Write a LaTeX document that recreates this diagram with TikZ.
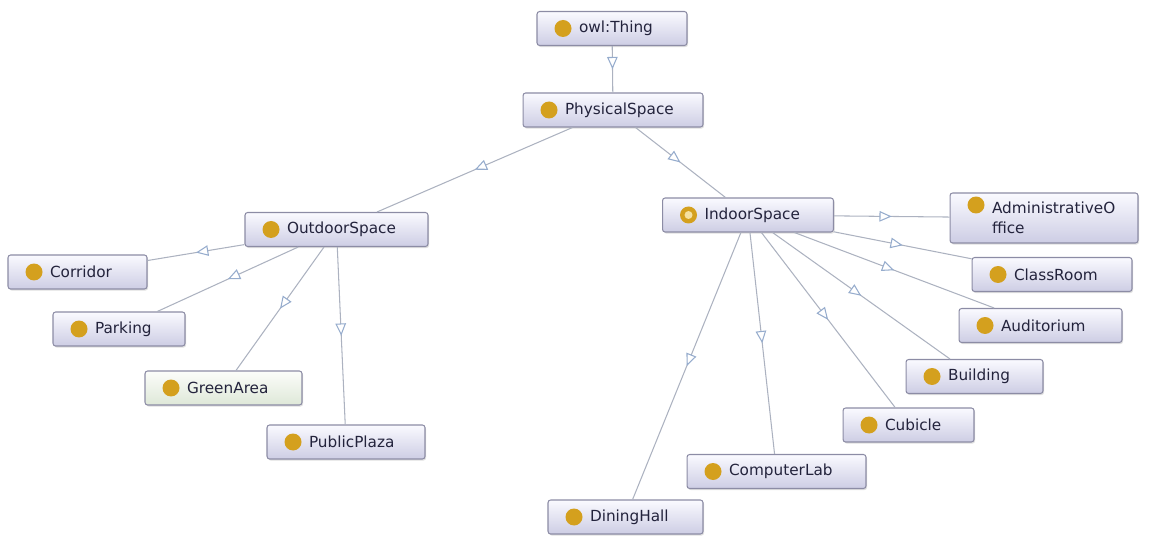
\documentclass[tikz,border=0pt]{standalone}
\usepackage{fontspec}
\setmainfont{DejaVu Sans}
\usepackage{tikz}
\usetikzlibrary{arrows.meta, decorations.markings, shadows}

\definecolor{boxline}{RGB}{140,140,165}
\definecolor{boxtop}{RGB}{250,250,255}
\definecolor{boxbottom}{RGB}{205,205,228}
\definecolor{greentop}{RGB}{252,253,250}
\definecolor{greenbottom}{RGB}{222,232,216}
\definecolor{dotcol}{RGB}{212,160,30}
\definecolor{dotlight}{RGB}{245,225,160}
\definecolor{edgecol}{RGB}{172,178,192}
\definecolor{tipcol}{RGB}{150,172,205}
\definecolor{labelcol}{RGB}{35,35,60}

\tikzset{
    cls/.style={draw=boxline, line width=0.6pt, rounded corners=1.5pt,
        top color=boxtop, bottom color=boxbottom,
        text width=#1, inner xsep=0pt, inner ysep=0pt, minimum height=0.68cm,
        align=left, text=labelcol, font=\fontsize{8.7}{11.3}\selectfont,
        drop shadow={shadow xshift=0.6pt, shadow yshift=-0.9pt, opacity=0.25},
        path picture={\fill[dotcol] ([xshift=0.52cm]path picture bounding box.west) circle (0.17cm);}},
    isa/.style={draw=edgecol, line width=0.6pt, postaction={decorate},
        decoration={markings, mark=at position 0.5 with {\arrow{Triangle[fill=white, color=tipcol, length=7pt, width=6pt, line width=0.6pt]}}}}
}

\begin{document}
\begin{tikzpicture}[x=0.02cm, y=-0.02cm]
    \useasboundingbox (0,0) rectangle (1151,536);

    % top of the hierarchy
    \node[cls=3.00cm] (thing) at (612,28.5) {\hspace*{0.84cm}owl:Thing};
    \node[cls=3.60cm] (physical) at (613,110) {\hspace*{0.84cm}PhysicalSpace};
    \node[cls=3.66cm] (outdoor) at (336.5,229.5) {\hspace*{0.84cm}OutdoorSpace};
    \node[cls=3.42cm, path picture={\fill[dotcol] ([xshift=0.52cm]path picture bounding box.west) circle (0.17cm);
        \fill[dotlight] ([xshift=0.52cm]path picture bounding box.west) circle (0.08cm);}]
        (indoor) at (748,215) {\hspace*{0.84cm}IndoorSpace};

    % outdoor subclasses
    \node[cls=2.78cm] (corridor) at (77.5,272) {\hspace*{0.84cm}Corridor};
    \node[cls=2.64cm] (parking) at (119,329) {\hspace*{0.84cm}Parking};
    \node[cls=3.14cm, top color=greentop, bottom color=greenbottom] (greenarea) at (223.5,388) {\hspace*{0.84cm}GreenArea};
    \node[cls=3.16cm] (plaza) at (346,442) {\hspace*{0.84cm}PublicPlaza};

    % indoor subclasses
    \node[cls=3.76cm, minimum height=1.0cm,
        path picture={\fill[dotcol] ([xshift=0.52cm, yshift=0.26cm]path picture bounding box.west) circle (0.17cm);}]
        (adminoffice) at (1044,218) {\hspace*{0.84cm}AdministrativeO\\\hspace*{0.84cm}ffice};
    \node[cls=3.20cm] (classroom) at (1052,274.5) {\hspace*{0.84cm}ClassRoom};
    \node[cls=3.26cm] (auditorium) at (1040.5,325.5) {\hspace*{0.84cm}Auditorium};
    \node[cls=2.74cm] (building) at (974.5,376.5) {\hspace*{0.84cm}Building};
    \node[cls=2.62cm] (cubicle) at (908.5,425) {\hspace*{0.84cm}Cubicle};
    \node[cls=3.58cm] (computerlab) at (776.5,471.5) {\hspace*{0.84cm}ComputerLab};
    \node[cls=3.10cm] (dininghall) at (625.5,517) {\hspace*{0.84cm}DiningHall};

    % subclass links
    \draw[isa] (thing) -- (physical);
    \draw[isa] (physical) -- (outdoor);
    \draw[isa] (physical) -- (indoor);
    \foreach \sub in {corridor, parking, greenarea, plaza}
        \draw[isa] (outdoor) -- (\sub);
    \foreach \sub in {adminoffice, classroom, auditorium, building, cubicle, computerlab, dininghall}
        \draw[isa] (indoor) -- (\sub);
\end{tikzpicture}
\end{document}
